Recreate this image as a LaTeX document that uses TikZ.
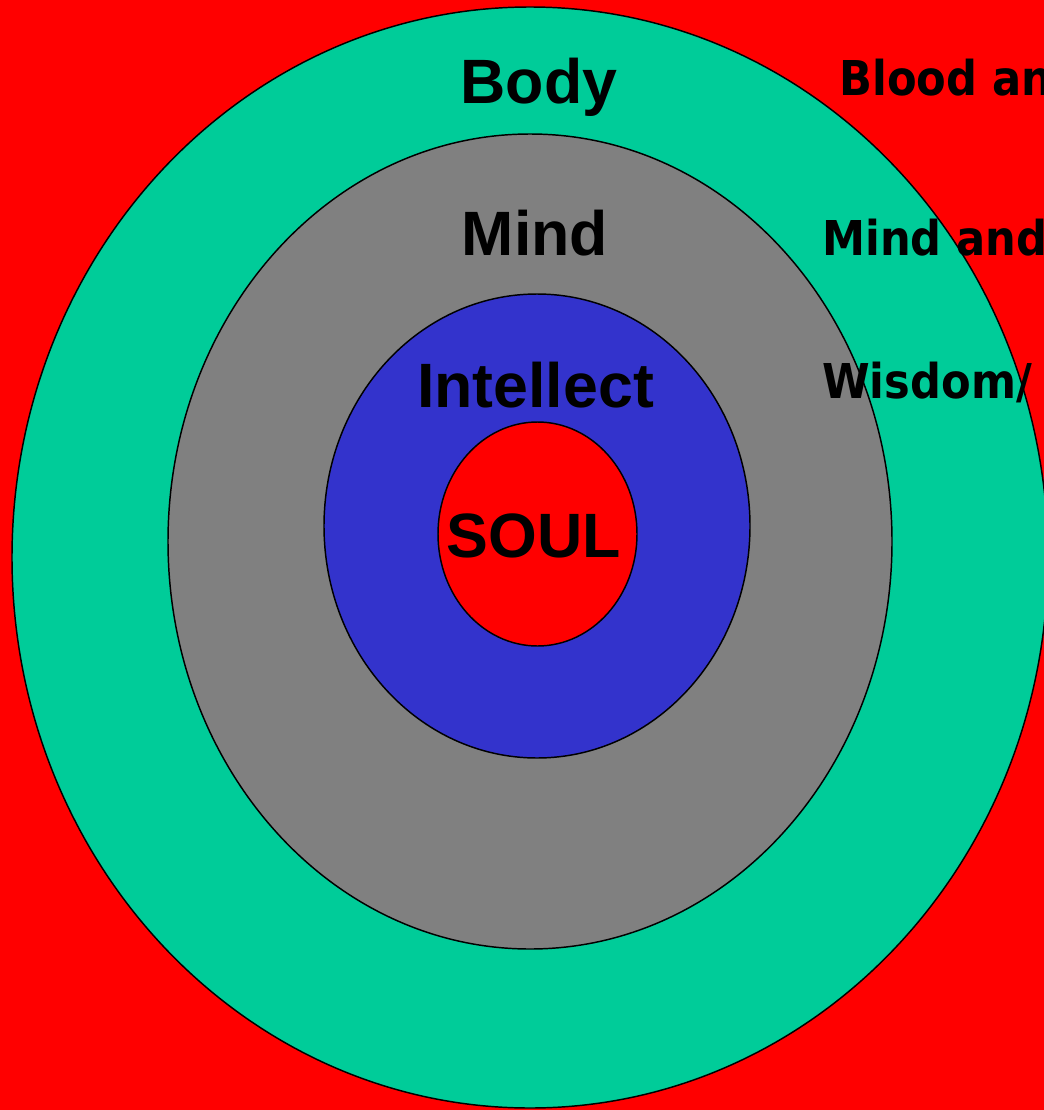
\documentclass[tikz,border=0pt]{standalone}
\usepackage{fontspec}
\setmainfont{Liberation Sans}
\newfontfamily\sidefont[FakeStretch=0.9]{DejaVu Sans}
\usetikzlibrary{positioning}

\definecolor{bgred}{RGB}{255,0,0}
\definecolor{bodyteal}{RGB}{0,204,153}
\definecolor{mindgray}{RGB}{128,128,128}
\definecolor{intblue}{RGB}{51,51,204}
\definecolor{soulred}{RGB}{255,0,0}

\begin{document}
\begin{tikzpicture}[
  x=0.75pt, y=-0.75pt,
  ring/.style={draw=black, line width=1.1pt},
  lbl/.style={inner sep=0pt, anchor=base, font=\fontsize{47}{56}\selectfont\bfseries},
  side/.style={inner sep=0pt, anchor=base west, font=\sidefont\fontsize{36}{43}\selectfont\bfseries}
]

% Frame
\useasboundingbox (0,0) rectangle (1044,1110);
\clip (0,0) rectangle (1044,1110);
\fill[bgred] (0,0) rectangle (1044,1110);

% Rings, outside in
\draw[ring, fill=bodyteal] (530,557.5) ellipse [x radius=518, y radius=550.5];
\draw[ring, fill=mindgray] (530,541.5) ellipse [x radius=362, y radius=407.5];
\draw[ring, fill=intblue] (537,526) ellipse [x radius=213, y radius=232];
\draw[ring, fill=soulred] (537.5,534) ellipse [x radius=99.5, y radius=112];

% Ring labels
\node[lbl] (body) at (539,103) {Body};
\node[lbl] (mind) at (535,255) {Mind};
\node[lbl] (intellect) at (535.5,407) {Intellect};
\node[lbl] (soul) at (533.5,557) {SOUL};

% Side notes
\node[side] (blood) at (839,95) {Blood and};
\node[side] (mindand) at (822,255) {Mind and};
\node[side] (wisdom) at (822,398) {Wisdom/};

\end{tikzpicture}
\end{document}
